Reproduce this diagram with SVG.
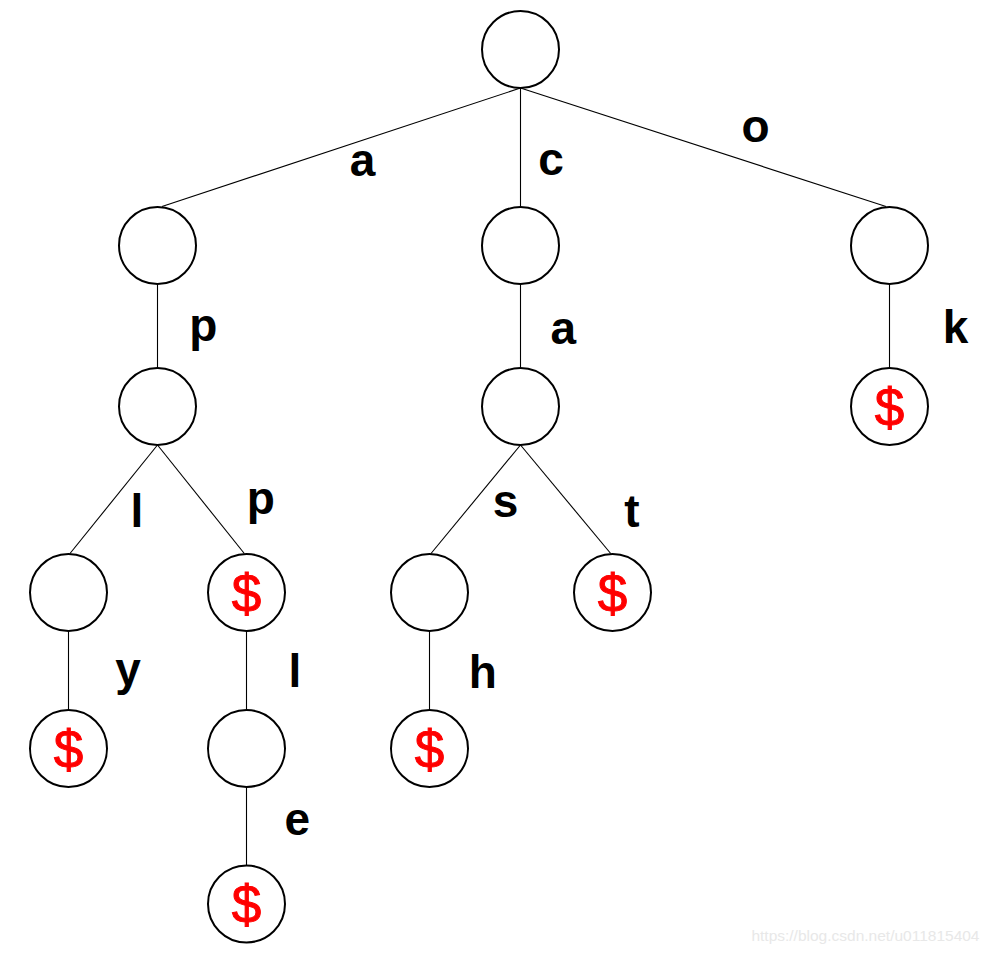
<svg xmlns="http://www.w3.org/2000/svg" width="989" height="953" viewBox="0 0 989 953">
<style>
.node{fill:#fff;stroke:#000;stroke-width:2}
.edge{stroke:#000;stroke-width:1.1;fill:none}
.lbl{font-family:"Liberation Sans",Arial,sans-serif;font-weight:bold;font-size:46px;fill:#000;text-anchor:middle}
.end{font-family:"Liberation Sans",Arial,sans-serif;font-size:53px;fill:#ff0000;stroke:#ff0000;stroke-width:1;text-anchor:middle}
.wm{font-family:"Liberation Sans",Arial,sans-serif;font-size:15.5px;fill:#e8e8e8;text-anchor:end}
</style>
<rect width="989" height="953" fill="#fff"/>
<g id="connectors">
<line class="edge" x1="520.5" y1="88" x2="162" y2="206.5"/>
<line class="edge" x1="520.5" y1="88" x2="520.5" y2="207"/>
<line class="edge" x1="520.5" y1="88" x2="886" y2="206.5"/>
<line class="edge" x1="157.5" y1="284" x2="157.5" y2="368"/>
<line class="edge" x1="520.5" y1="284" x2="520.5" y2="368"/>
<line class="edge" x1="889.5" y1="284" x2="889.5" y2="368"/>
<line class="edge" x1="157.5" y1="445" x2="70" y2="553.5"/>
<line class="edge" x1="157.5" y1="445" x2="244.3" y2="553.5"/>
<line class="edge" x1="520.5" y1="445" x2="431" y2="553.5"/>
<line class="edge" x1="520.5" y1="445" x2="610.7" y2="553.5"/>
<line class="edge" x1="68.5" y1="631" x2="68.5" y2="710"/>
<line class="edge" x1="246.5" y1="631" x2="246.5" y2="710"/>
<line class="edge" x1="429.5" y1="631" x2="429.5" y2="710"/>
<line class="edge" x1="246.5" y1="787" x2="246.5" y2="865.5"/>
<text class="lbl" x="362.5" y="175.5">a</text>
<text class="lbl" x="551" y="175">c</text>
<text class="lbl" x="755.5" y="141.5">o</text>
<text class="lbl" x="203.3" y="341">p</text>
<text class="lbl" x="563.3" y="344">a</text>
<text class="lbl" x="955.5" y="343.3">k</text>
<text class="lbl" x="137" y="527.3">l</text>
<text class="lbl" x="260.8" y="514">p</text>
<text class="lbl" x="505.5" y="517.3">s</text>
<text class="lbl" x="632" y="526.7">t</text>
<text class="lbl" x="128" y="685">y</text>
<text class="lbl" x="295" y="686.7">l</text>
<text class="lbl" x="482.7" y="688.3">h</text>
<text class="lbl" x="297.2" y="834.5">e</text>
</g>
<g id="root"><circle class="node" cx="520.5" cy="49.5" r="38.5"/></g>
<g id="n_a"><circle class="node" cx="157.5" cy="245.5" r="38.5"/></g>
<g id="n_c"><circle class="node" cx="520.5" cy="245.5" r="38.5"/></g>
<g id="n_o"><circle class="node" cx="889.5" cy="245.5" r="38.5"/></g>
<g id="n_ap"><circle class="node" cx="157.5" cy="406.5" r="38.5"/></g>
<g id="n_ca"><circle class="node" cx="520.5" cy="406.5" r="38.5"/></g>
<g id="n_ok"><circle class="node" cx="889.5" cy="406.5" r="38.5"/><text class="end" x="889.5" y="425.5">$</text></g>
<g id="n_apl"><circle class="node" cx="68.5" cy="592.5" r="38.5"/></g>
<g id="n_app"><circle class="node" cx="246.5" cy="592.5" r="38.5"/><text class="end" x="246.5" y="611.5">$</text></g>
<g id="n_cas"><circle class="node" cx="429.5" cy="592.5" r="38.5"/></g>
<g id="n_cat"><circle class="node" cx="612.5" cy="592.5" r="38.5"/><text class="end" x="612.5" y="611.5">$</text></g>
<g id="n_aply"><circle class="node" cx="68.5" cy="748.5" r="38.5"/><text class="end" x="68.5" y="767.5">$</text></g>
<g id="n_appl"><circle class="node" cx="246.5" cy="748.5" r="38.5"/></g>
<g id="n_cash"><circle class="node" cx="429.5" cy="748.5" r="38.5"/><text class="end" x="429.5" y="767.5">$</text></g>
<g id="n_apple"><circle class="node" cx="246.5" cy="904" r="38.5"/><text class="end" x="246.5" y="923">$</text></g>
<text class="wm" x="979.5" y="940.5">https://blog.csdn.net/u011815404</text>
</svg>
